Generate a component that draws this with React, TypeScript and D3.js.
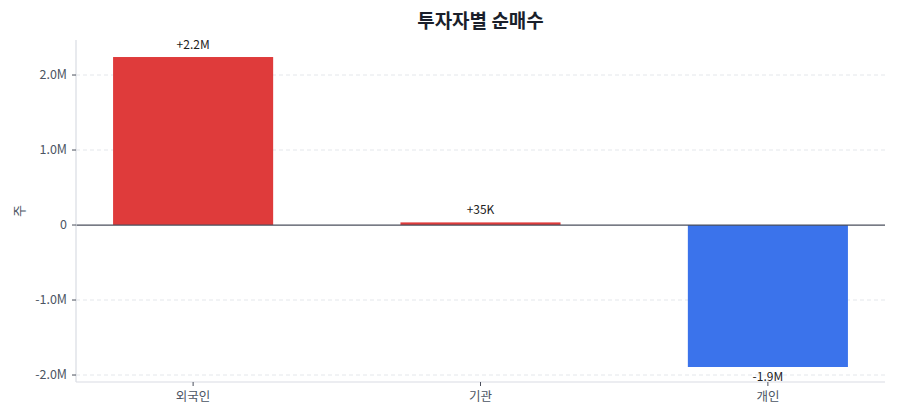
import * as d3 from 'd3'

const investors = ['외국인', '기관', '개인']
const netBuy = [2240000, 35000, -1893000]
const valueLabels = ['+2.2M', '+35K', '-1.9M']
const yTicks = [-2000000, -1000000, 0, 1000000, 2000000]

const COLORS = {
  UP: '#df3b3b',
  DOWN: '#3b73eb',
  GRID: '#e5e7eb',
  AXIS: '#d9dce3',
  ZERO: '#4a4f5c',
  TEXT: '#4b5563',
}

const FONT = "'Noto Sans CJK KR', 'Noto Sans', sans-serif"

function fmtTick(v: number) {
  if (v === 0) return '0'
  return `${(v / 1e6).toFixed(1)}M`
}

export default function App() {
  const width = 900
  const height = 420
  const margin = {top: 40, right: 15, bottom: 38, left: 76}

  const x = d3
    .scaleBand<string>()
    .domain(investors)
    .range([margin.left, width - margin.right])
    .paddingInner(0.443)
    .paddingOuter(0.129)

  const y = d3
    .scaleLinear()
    .domain([-2093000, 2467000])
    .range([height - margin.bottom, margin.top])

  const x0 = margin.left
  const x1 = width - margin.right
  const yTop = margin.top
  const yBottom = height - margin.bottom

  return (
    <svg
      width={width}
      height={height}
      style={{position: 'absolute', left: 0, top: 0, background: '#fff'}}
      fontFamily={FONT}
    >
      <text
        x={(x0 + x1) / 2}
        y={28}
        textAnchor={'middle'}
        fontSize={19}
        fontWeight={700}
        fill={'#1a1f2b'}
      >
        투자자별 순매수
      </text>

      {yTicks
        .filter((t) => t !== 0)
        .map((t) => (
          <line
            key={`g${t}`}
            x1={x0}
            x2={x1}
            y1={y(t)}
            y2={y(t)}
            stroke={COLORS.GRID}
            strokeDasharray={'4,3'}
          />
        ))}

      {investors.map((name, i) => {
        const v = netBuy[i]
        const top = Math.min(y(v), y(0))
        const h = Math.abs(y(v) - y(0))
        return (
          <rect
            key={name}
            x={x(name)}
            y={top}
            width={x.bandwidth()}
            height={h}
            fill={v >= 0 ? COLORS.UP : COLORS.DOWN}
          />
        )
      })}

      {investors.map((name, i) => {
        const v = netBuy[i]
        const cx = (x(name) ?? 0) + x.bandwidth() / 2
        return (
          <text
            key={`l${name}`}
            x={cx}
            y={v >= 0 ? y(v) - 8 : y(v) + 14}
            textAnchor={'middle'}
            fontSize={12}
            fill={'#222'}
          >
            {valueLabels[i]}
          </text>
        )
      })}

      <line x1={x0} x2={x1} y1={y(0)} y2={y(0)} stroke={COLORS.ZERO} strokeWidth={1.2} />

      <line x1={x0} x2={x0} y1={yTop} y2={yBottom} stroke={COLORS.AXIS} strokeWidth={1.2} />
      <line x1={x0} x2={x1} y1={yBottom} y2={yBottom} stroke={COLORS.AXIS} strokeWidth={1.2} />

      {yTicks.map((t) => (
        <g key={`t${t}`} transform={`translate(${x0}, ${y(t)})`}>
          <line x1={-4} x2={0} stroke={COLORS.ZERO} />
          <text x={-9} dy={'0.35em'} textAnchor={'end'} fontSize={12.5} fill={COLORS.TEXT}>
            {fmtTick(t)}
          </text>
        </g>
      ))}

      {investors.map((name) => {
        const cx = (x(name) ?? 0) + x.bandwidth() / 2
        return (
          <g key={`x${name}`} transform={`translate(${cx}, ${yBottom})`}>
            <line y1={0} y2={4} stroke={COLORS.ZERO} />
            <text y={19} textAnchor={'middle'} fontSize={12.5} fill={COLORS.TEXT}>
              {name}
            </text>
          </g>
        )
      })}

      <text
        transform={`translate(19, ${(yTop + yBottom) / 2}) rotate(-90)`}
        textAnchor={'middle'}
        dy={'0.35em'}
        fontSize={13}
        fill={COLORS.TEXT}
      >
        주
      </text>
    </svg>
  )
}
